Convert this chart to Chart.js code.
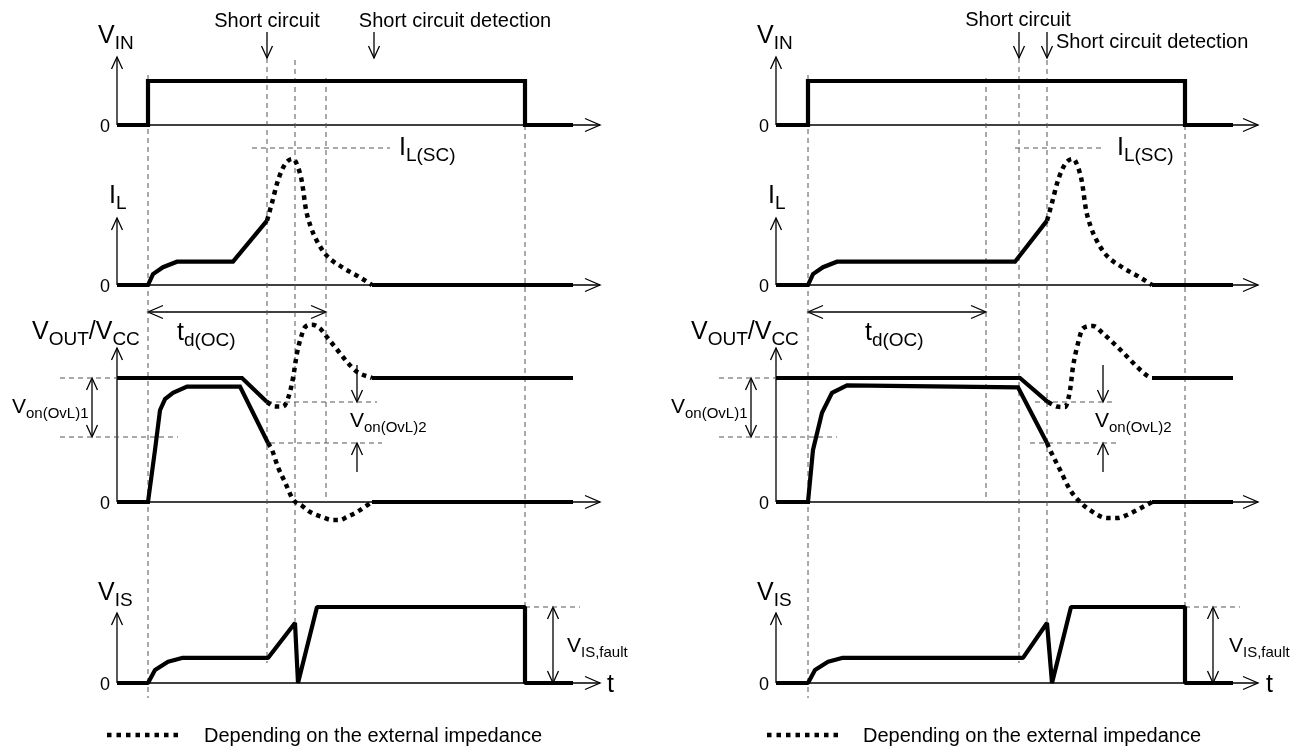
<!DOCTYPE html>
<html>
<head>
<meta charset="utf-8">
<script src="https://cdn.jsdelivr.net/npm/chart.js@4.4.0/dist/chart.umd.min.js"></script>
<style>
  html, body { margin: 0; padding: 0; background: #fff; }
  canvas { display: block; }
</style>
</head>
<body>
<canvas id="diagrama" width="1304" height="749"></canvas>
<script>
// ---- waveform data: [time, level]; time in arbitrary units from the axis origin,
// ---- level relative to each panel's reference (VIN high, IL(SC), VCC, VIS,fault)

// left diagram
const vinA = [[0,0],[31,0],[31,1],[408,1],[408,0],[456,0]];
const ilA = [[0,0],[31,0],[36,0.08],[46,0.13],[60,0.17],[116,0.17],[150,0.47]];
const ilA_dep = [[150,0.47],[155,0.60],[160,0.74],[165,0.84],[170,0.90],[176,0.92],[181,0.86],[185,0.75],[189,0.55],[194,0.42],[200,0.32],[209,0.22],[225,0.13],[242,0.06],[255,0]];
const ilA_end = [[255,0],[456,0]];
const voutA_hi = [[0,1],[125,1],[150,0.806]];
const voutA_hi_dep = [[150,0.806],[158,0.77],[166,0.77],[172,0.86],[176,1.0],[180,1.2],[183,1.3],[188,1.41],[195,1.43],[203,1.40],[210,1.33],[220,1.23],[230,1.13],[240,1.05],[255,1.0]];
const voutA_hi_end = [[255,1],[456,1]];
const voutA_lo = [[0,0],[31,0],[38,0.42],[43,0.74],[48,0.83],[56,0.88],[70,0.93],[123,0.93],[151,0.476]];
const voutA_lo_dep = [[151,0.476],[155,0.42],[161,0.28],[168,0.16],[176,0.02],[185,-0.03],[193,-0.08],[205,-0.12],[215,-0.145],[223,-0.145],[230,-0.12],[240,-0.08],[255,0]];
const voutA_lo_end = [[255,0],[456,0]];
const visA = [[0,0],[31,0],[38,0.17],[51,0.28],[65,0.33],[151,0.33],[178,0.79],[181,0],[200,1],[408,1],[408,0],[456,0]];

// right diagram
const vinB = [[0,0],[32,0],[32,1],[409,1],[409,0],[457,0]];
const ilB = [[0,0],[32,0],[37,0.08],[47,0.13],[61,0.17],[239,0.17],[271,0.47]];
const ilB_dep = [[271,0.47],[276,0.60],[281,0.74],[286,0.84],[291,0.90],[297,0.92],[302,0.86],[306,0.75],[310,0.55],[315,0.42],[321,0.32],[330,0.22],[346,0.13],[363,0.06],[376,0]];
const ilB_end = [[376,0],[457,0]];
const voutB_hi = [[0,1],[244,1],[272,0.806]];
const voutB_hi_dep = [[272,0.806],[281,0.77],[289,0.766],[294,0.9],[297,1.09],[302,1.28],[307,1.40],[317,1.42],[327,1.36],[339,1.27],[349,1.19],[361,1.09],[371,1.02],[376,1.0]];
const voutB_hi_end = [[376,1],[457,1]];
const voutB_lo = [[0,0],[32,0],[37,0.42],[46,0.72],[56,0.88],[71,0.94],[242,0.925],[271,0.476]];
const voutB_lo_dep = [[271,0.476],[274,0.42],[284,0.26],[294,0.1],[304,0],[314,-0.065],[331,-0.13],[341,-0.13],[351,-0.105],[361,-0.065],[376,0]];
const voutB_lo_end = [[376,0],[457,0]];
const visB = [[0,0],[32,0],[39,0.17],[52,0.28],[66,0.33],[247,0.33],[271,0.79],[276,0],[295,1],[409,1],[409,0],[457,0]];

// event times (dashed markers): rise, short circuit, detection, td(OC) end, fall
const eventosA = { rise: 31, sc: 150, det: 178, td: 209, fall: 408 };
const eventosB = { rise: 32, sc: 243, det: 271, td: 210, fall: 409 };

// ---- layout
const origenX = [117, 776];
const paneles = {
  vin:  { base: 125, unit: 44,  top: 57 },
  il:   { base: 285, unit: 137, top: 218 },
  vout: { base: 502, unit: 124, top: 348 },
  vis:  { base: 683, unit: 76,  top: 613 }
};
const finEje = 483;

const ds = [];
function linea(pts, opts) {
  ds.push(Object.assign({
    data: pts.map(p => ({ x: p[0], y: p[1] })),
    showLine: true, pointRadius: 0, borderColor: '#000', borderWidth: 1.3,
    fill: false, tension: 0, order: 3, borderCapStyle: 'butt', borderJoinStyle: 'miter'
  }, opts));
}
function onda(lado, panel, pts, tipo) {
  const o = origenX[lado], p = paneles[panel];
  const xy = pts.map(([t, v]) => [o + t, p.base - v * p.unit]);
  if (tipo === 'dep') {
    linea(xy, { borderWidth: 4.5, borderDash: [4.5, 4.5], tension: 0.4, cubicInterpolationMode: 'monotone', order: 1 });
  } else {
    linea(xy, { borderWidth: 4.2, order: 0, borderJoinStyle: panel === 'vis' ? 'bevel' : 'miter' });
  }
}
function guia(pts) {
  linea(pts, { borderColor: '#555', borderWidth: 1, borderDash: [5, 4], order: 2 });
}
function punta(x, y, dir, grande) {
  const L = grande ? 15 : 12, w = grande ? 6.5 : 5.5;
  if (dir === 'up') linea([[x - w, y + L], [x, y], [x + w, y + L]]);
  if (dir === 'down') linea([[x - w, y - L], [x, y], [x + w, y - L]]);
  if (dir === 'left') linea([[x + L, y - w], [x, y], [x + L, y + w]]);
  if (dir === 'right') linea([[x - L, y - w], [x, y], [x - L, y + w]]);
}
function flecha(x1, y1, x2, y2, dobles, grande) {
  linea([[x1, y1], [x2, y2]]);
  const dir = x1 === x2 ? (y2 > y1 ? 'down' : 'up') : (x2 > x1 ? 'right' : 'left');
  punta(x2, y2, dir, grande);
  if (dobles) {
    const inv = { up: 'down', down: 'up', left: 'right', right: 'left' }[dir];
    punta(x1, y1, inv, grande);
  }
}

// axes
[0, 1].forEach(lado => {
  const o = origenX[lado];
  Object.values(paneles).forEach(p => {
    flecha(o, p.base, o, p.top, false);
    flecha(o, p.base, o + finEje - (lado ? 1 : 0), p.base, false, true);
  });
});

// waveforms
onda(0, 'vin', vinA); onda(0, 'il', ilA); onda(0, 'il', ilA_dep, 'dep'); onda(0, 'il', ilA_end);
onda(0, 'vout', voutA_hi); onda(0, 'vout', voutA_hi_dep, 'dep'); onda(0, 'vout', voutA_hi_end);
onda(0, 'vout', voutA_lo); onda(0, 'vout', voutA_lo_dep, 'dep'); onda(0, 'vout', voutA_lo_end);
onda(0, 'vis', visA);
onda(1, 'vin', vinB); onda(1, 'il', ilB); onda(1, 'il', ilB_dep, 'dep'); onda(1, 'il', ilB_end);
onda(1, 'vout', voutB_hi); onda(1, 'vout', voutB_hi_dep, 'dep'); onda(1, 'vout', voutB_hi_end);
onda(1, 'vout', voutB_lo); onda(1, 'vout', voutB_lo_dep, 'dep'); onda(1, 'vout', voutB_lo_end);
onda(1, 'vis', visB);

// dashed markers
function marcas(lado, ev) {
  const o = origenX[lado];
  guia([[o + ev.rise, 75], [o + ev.rise, 698]]);
  guia([[o + ev.sc, 58], [o + ev.sc, 663]]);
  guia([[o + ev.det, 60], [o + ev.det, 623]]);
  guia([[o + ev.td, 78], [o + ev.td, 502]]);
  guia([[o + ev.fall, 125], [o + ev.fall, 607]]);
  guia([[o - 57, 378], [o, 378]]);
  guia([[o - 57, 437], [o + 61, 437]]);
  guia([[o + ev.fall, 607], [o + ev.fall + 55, 607]]);
  flecha(o + ev.rise, 312, o + ev.td, 312, true, true);
  flecha(o - 25, 378, o - 25, 437, true);
  flecha(o + ev.fall + 28, 607, o + ev.fall + 28, 683, true);
}
marcas(0, eventosA);
marcas(1, eventosB);

// left specific guides
guia([[252, 148], [390, 148]]);
guia([[267, 402], [377, 402]]);
guia([[270, 443], [382, 443]]);
flecha(357, 365, 357, 402); flecha(357, 472, 357, 443);
flecha(267, 32, 267, 58); flecha(374, 32, 374, 58);
// right specific guides
guia([[1015, 148], [1103, 148]]);
guia([[1035, 402], [1112, 402]]);
guia([[1030, 443], [1120, 443]]);
flecha(1103, 365, 1103, 402); flecha(1103, 472, 1103, 443);
flecha(1019, 32, 1019, 58); flecha(1047, 32, 1047, 58);

// legend samples
linea([[107, 735], [183, 735]], { borderWidth: 4.5, borderDash: [4.5, 5], order: 1 });
linea([[767, 735], [843, 735]], { borderWidth: 4.5, borderDash: [4.5, 5], order: 1 });

// ---- texts
const M = 25, S = 19, m = 21, s = 15;
const rotulos = [];
function rot(x, y, parts, align) { rotulos.push({ x, y, parts, align: align || 'left' }); }
[0, 1].forEach(lado => {
  const d = lado ? 659 : 0;
  rot(98 + d, 43, [['V', M, 0], ['IN', S, 6]]);
  rot(109 + d, 203, [['I', M, 0], ['L', S, 6]]);
  rot(32 + d, 339, [['V', M, 0], ['OUT', S, 6], ['/V', M, 0], ['CC', S, 6]]);
  rot(98 + d, 600, [['V', M, 0], ['IS', S, 6]]);
  rot(12 + d, 413, [['V', m, 0], ['on(OvL)1', s, 5]]);
  Object.values(paneles).forEach(p => rot(110 + d, p.base + 6.5, [['0', 18, 0]], 'right'));
  rot(607 + d, 692, [['t', M, 0]]);
  rot(204 + d, 742, [['Depending on the external impedance', 20, 0]]);
});
rot(267, 27, [['Short circuit', 20, 0]], 'center');
rot(455, 27, [['Short circuit detection', 20, 0]], 'center');
rot(399, 155, [['I', M, 0], ['L(SC)', S, 6]]);
rot(177, 340, [['t', M, 0], ['d(OC)', S, 6]]);
rot(350, 427, [['V', m, 0], ['on(OvL)2', s, 5]]);
rot(567, 652, [['V', m, 0], ['IS,fault', s, 5]]);
rot(1018, 26, [['Short circuit', 20, 0]], 'center');
rot(1056, 48, [['Short circuit detection', 20, 0]]);
rot(1117, 155, [['I', M, 0], ['L(SC)', S, 6]]);
rot(865, 340, [['t', M, 0], ['d(OC)', S, 6]]);
rot(1095, 427, [['V', m, 0], ['on(OvL)2', s, 5]]);
rot(1229, 652, [['V', m, 0], ['IS,fault', s, 5]]);

const fuente = px => px + 'px "Liberation Sans", Arial, sans-serif';
const textos = {
  id: 'textos',
  afterDatasetsDraw(chart) {
    const ctx = chart.ctx, sx = chart.scales.x, sy = chart.scales.y;
    ctx.save();
    ctx.fillStyle = '#000';
    ctx.textBaseline = 'alphabetic';
    ctx.textAlign = 'left';
    rotulos.forEach(r => {
      let x = sx.getPixelForValue(r.x);
      const y = sy.getPixelForValue(r.y);
      if (r.align !== 'left') {
        let w = 0;
        r.parts.forEach(p => { ctx.font = fuente(p[1]); w += ctx.measureText(p[0]).width; });
        x -= r.align === 'center' ? w / 2 : w;
      }
      r.parts.forEach(p => {
        ctx.font = fuente(p[1]);
        ctx.fillText(p[0], x, y + p[2]);
        x += ctx.measureText(p[0]).width;
      });
    });
    ctx.restore();
  }
};

new Chart(document.getElementById('diagrama'), {
  type: 'scatter',
  data: { datasets: ds },
  options: {
    responsive: false,
    animation: false,
    events: [],
    layout: { padding: 0 },
    plugins: { legend: { display: false }, tooltip: { enabled: false } },
    scales: {
      x: { type: 'linear', display: false, min: 0, max: 1304 },
      y: { type: 'linear', display: false, min: 0, max: 749, reverse: true }
    }
  },
  plugins: [textos]
});
</script>
</body>
</html>
